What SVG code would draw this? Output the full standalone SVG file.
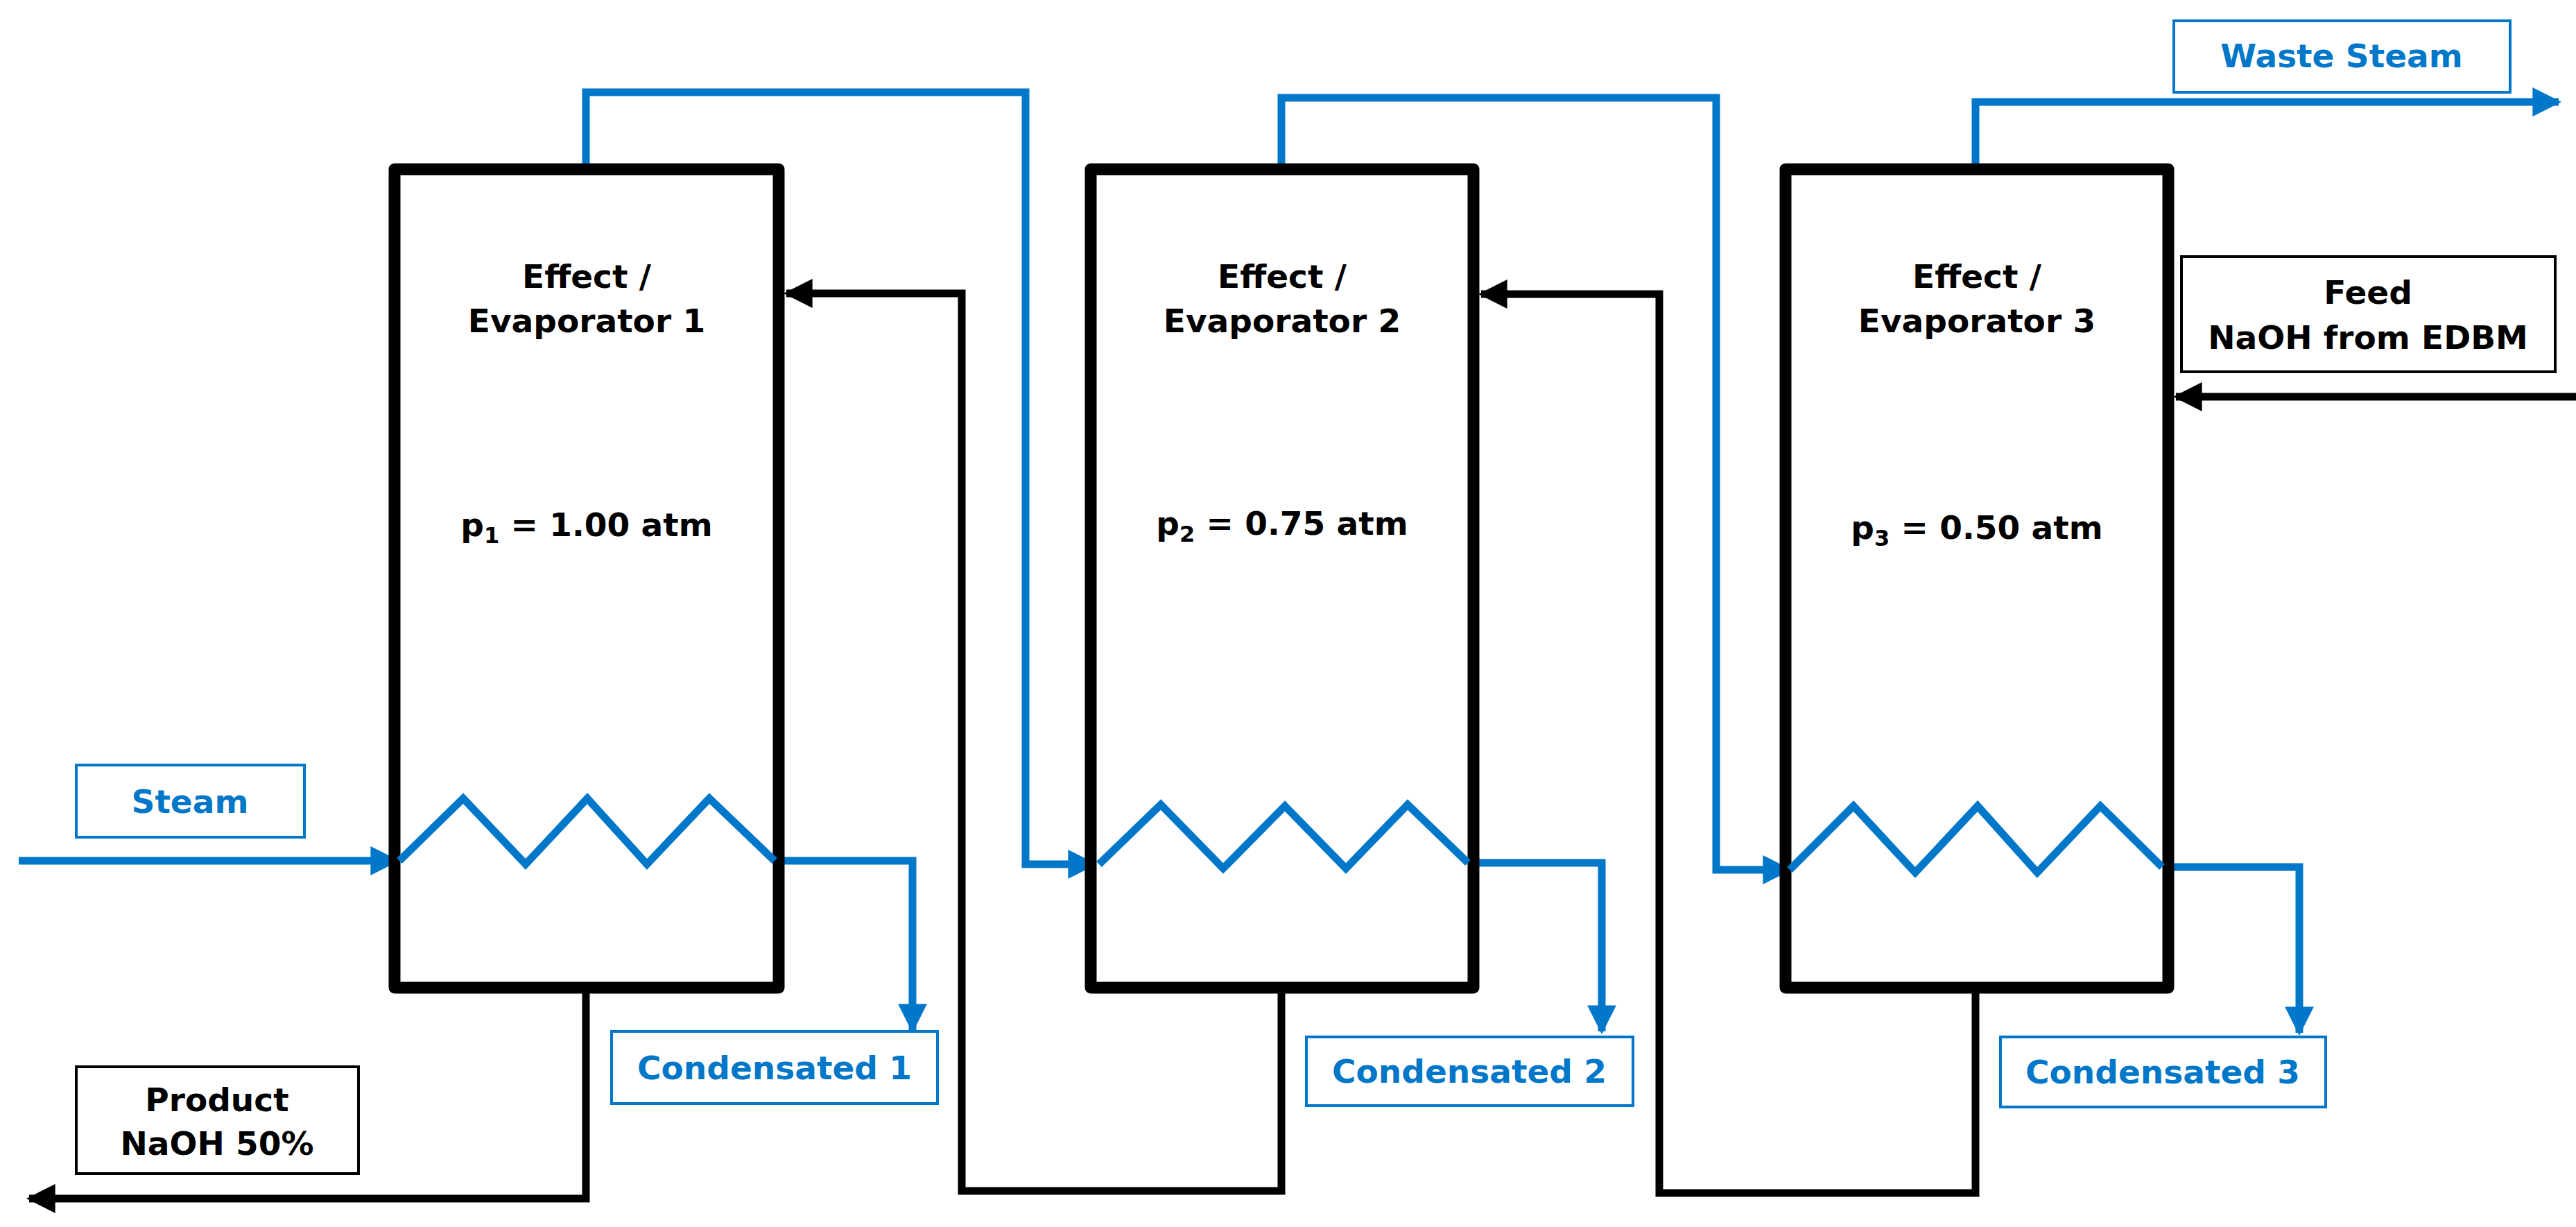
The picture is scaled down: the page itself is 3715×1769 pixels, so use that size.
<svg xmlns="http://www.w3.org/2000/svg" width="3715" height="1769" viewBox="0 0 3715 1769">
<style>
text{font-family:"DejaVu Sans","Verdana",sans-serif;font-weight:bold;font-size:47px;text-anchor:middle}
.evap{fill:#fff;stroke:#000;stroke-width:17;stroke-linejoin:round}
.blue{fill:none;stroke:#0077C8;stroke-width:11}
.black{fill:none;stroke:#000;stroke-width:11}
.lb{fill:#fff;stroke:#0077C8;stroke-width:4}
.lk{fill:#fff;stroke:#000;stroke-width:4}
.tb{fill:#0077C8}
.tk{fill:#000}
</style>
<defs>
<marker id="ab" viewBox="0 0 10 10" refX="9" refY="5" markerWidth="3.8" markerHeight="3.8" orient="auto" markerUnits="strokeWidth"><path d="M0,0L10,5L0,10z" fill="#0077C8"/></marker>
<marker id="ak" viewBox="0 0 10 10" refX="9" refY="5" markerWidth="3.8" markerHeight="3.8" orient="auto" markerUnits="strokeWidth"><path d="M0,0L10,5L0,10z" fill="#000"/></marker>
</defs>
<g id="connectors">
<path class="blue" d="M27,1241H572" marker-end="url(#ab)"/>
<path class="blue" d="M1117,1241H1316V1485" marker-end="url(#ab)"/>
<path class="blue" d="M845,236V133H1479V1246H1578" marker-end="url(#ab)"/>
<path class="blue" d="M2117,1244H2310V1487" marker-end="url(#ab)"/>
<path class="blue" d="M1848,236V141H2475V1254H2580" marker-end="url(#ab)"/>
<path class="blue" d="M3118,1250H3316V1489" marker-end="url(#ab)"/>
<path class="blue" d="M2849,236V147H3690" marker-end="url(#ab)"/>
<path class="black" d="M845,1432V1728H42" marker-end="url(#ak)"/>
<path class="black" d="M1848,1432V1717H1387V423H1134" marker-end="url(#ak)"/>
<path class="black" d="M2849,1432V1720H2393V424H2136" marker-end="url(#ak)"/>
<path class="black" d="M3715,572H3138" marker-end="url(#ak)"/>
</g>
<g id="evap1">
<rect class="evap" x="569" y="244" width="554" height="1180"/>
<polyline class="blue" points="576,1241 668,1151 758,1246 847,1151 933,1246 1023,1151 1117,1241"/>
<text x="846" y="415">Effect /</text>
<text x="846" y="479">Evaporator 1</text>
<text x="846" y="773">p<tspan font-size="32" dy="10">1</tspan><tspan dy="-10"> = 1.00 atm</tspan></text>
</g>
<g id="evap2">
<rect class="evap" x="1573" y="244" width="552" height="1180"/>
<polyline class="blue" points="1585,1246 1674,1160 1764,1252 1853,1162 1941,1252 2030,1160 2117,1244"/>
<text x="1849" y="415">Effect /</text>
<text x="1849" y="479">Evaporator 2</text>
<text x="1849" y="771">p<tspan font-size="32" dy="10">2</tspan><tspan dy="-10"> = 0.75 atm</tspan></text>
</g>
<g id="evap3">
<rect class="evap" x="2575" y="244" width="552" height="1180"/>
<polyline class="blue" points="2581,1254 2673,1162 2762,1258 2852,1162 2938,1258 3029,1162 3118,1250"/>
<text x="2851" y="415">Effect /</text>
<text x="2851" y="479">Evaporator 3</text>
<text x="2851" y="777">p<tspan font-size="32" dy="10">3</tspan><tspan dy="-10"> = 0.50 atm</tspan></text>
</g>
<g id="steam"><rect class="lb" x="110" y="1103" width="329" height="104"/><text class="tb" x="274" y="1172">Steam</text></g>
<g id="product"><rect class="lk" x="110" y="1538" width="407" height="154"/><text class="tk" x="313" y="1602">Product</text><text class="tk" x="313" y="1665">NaOH 50%</text></g>
<g id="cond1"><rect class="lb" x="882" y="1487" width="470" height="104"/><text class="tb" x="1117" y="1556">Condensated 1</text></g>
<g id="cond2"><rect class="lb" x="1884" y="1495" width="471" height="99"/><text class="tb" x="2119" y="1561">Condensated 2</text></g>
<g id="cond3"><rect class="lb" x="2885" y="1495" width="469" height="101"/><text class="tb" x="3119" y="1562">Condensated 3</text></g>
<g id="waste"><rect class="lb" x="3135" y="30" width="485" height="103"/><text class="tb" x="3377" y="97">Waste Steam</text></g>
<g id="feed"><rect class="lk" x="3146" y="370" width="539" height="166"/><text class="tk" x="3415" y="438">Feed</text><text class="tk" x="3415" y="503">NaOH from EDBM</text></g>
</svg>
